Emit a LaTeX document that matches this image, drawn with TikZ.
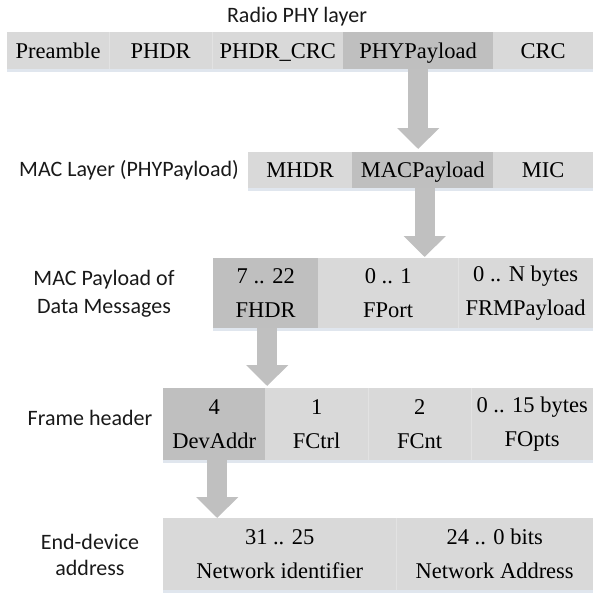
\documentclass[tikz,border=0pt]{standalone}
\usepackage{fontspec}
\setmainfont{Liberation Serif}
\newfontfamily\labelfont{Carlito}
\usetikzlibrary{arrows.meta,shadows}
\definecolor{cellA}{HTML}{D9D9D9}
\definecolor{cellB}{HTML}{BFBFBF}
\definecolor{arrowc}{HTML}{C0C0C0}
\definecolor{divc}{HTML}{E2E2E2}
\definecolor{shadowc}{HTML}{DDE3EC}
\begin{document}
\begin{tikzpicture}[x=1pt,y=-1pt,
  cell/.style={fill=cellA, draw=none, inner sep=0pt, anchor=north west, align=center,
    font=\fontsize{22.5pt}{34pt}\selectfont,
    drop shadow={shadow xshift=0pt, shadow yshift=-3pt, fill=shadowc, opacity=0.9}},
  oneline/.style={text height=15pt, text depth=0pt},
  dark/.style={fill=cellB},
  divider/.style={draw=divc, line width=1pt},
  lbl/.style={font=\labelfont\fontsize{22pt}{28pt}\selectfont, align=center, inner sep=0pt, text=black!90},
  bigarrow/.style={draw=arrowc, line width=20pt, -{Triangle[width=41pt,length=21pt]}},
]
\useasboundingbox (0,0) rectangle (593,595);

% Row 1: Radio PHY layer
\node[lbl] (title) at (297,17) {Radio PHY layer};
\node[cell, oneline, minimum width=102pt, minimum height=37pt] (pre) at (7,32) {Preamble};
\node[cell, oneline, minimum width=103pt, minimum height=37pt] (phdr) at (109,32) {PHDR};
\node[cell, oneline, minimum width=131pt, minimum height=37pt] (phdrcrc) at (212,32) {PHDR\_CRC};
\node[cell, oneline, dark, minimum width=150pt, minimum height=37pt] (phypay) at (343,32) {PHYPayload};
\node[cell, oneline, minimum width=100pt, minimum height=37pt] (crc) at (493,32) {CRC};
\draw[divider] (pre.north east) -- (pre.south east);
\draw[divider] (phdr.north east) -- (phdr.south east);

% Row 2: MAC layer
\node[lbl] (maclbl) at (129,170) {MAC Layer (PHYPayload)};
\node[cell, oneline, minimum width=104pt, minimum height=36pt] (mhdr) at (248,152) {MHDR};
\node[cell, oneline, dark, minimum width=141pt, minimum height=36pt] (macpay) at (352,152) {MACPayload};
\node[cell, oneline, minimum width=100pt, minimum height=36pt] (mic) at (493,152) {MIC};

% Row 3: MAC payload
\node[lbl] (pllbl) at (104,294) {MAC Payload of\\Data Messages};
\node[cell, dark, minimum width=105pt, minimum height=70pt] (fhdr) at (213,258) {7 .. 22\\FHDR};
\node[cell, minimum width=140pt, minimum height=70pt] (fport) at (318,258) {0 .. 1\\FPort};
\node[cell, minimum width=135pt, minimum height=70pt] (frm) at (458,258) {0 .. N bytes\\FRMPayload};
\draw[divider] (fport.north east) -- (fport.south east);

% Row 4: Frame header
\node[lbl] (fhlbl) at (90,418) {Frame header};
\node[cell, dark, minimum width=102pt, minimum height=72pt] (dev) at (163,388) {4\\DevAddr};
\node[cell, minimum width=103pt, minimum height=72pt] (fctrl) at (265,388) {1\\FCtrl};
\node[cell, minimum width=103pt, minimum height=72pt] (fcnt) at (368,388) {2\\FCnt};
\node[cell, minimum width=122pt, minimum height=72pt] (fopts) at (471,388) {0 .. 15 bytes\\FOpts};
\draw[divider] (fctrl.north east) -- (fctrl.south east);
\draw[divider] (fcnt.north east) -- (fcnt.south east);

% Row 5: End-device address
\node[lbl, font=\labelfont\fontsize{22pt}{26pt}\selectfont] (edlbl) at (90,555) {End-device\\address};
\node[cell, minimum width=233pt, minimum height=72pt] (netid) at (163,518) {31 .. 25\\Network identifier};
\node[cell, minimum width=197pt, minimum height=72pt] (netaddr) at (396,518) {24 .. 0 bits\\Network Address};
\draw[divider] (netid.north east) -- (netid.south east);

% Arrows
\draw[bigarrow, shorten >=3pt] (phypay.south) -- (phypay.south |- mhdr.north);
\draw[bigarrow, shorten >=1pt] ([xshift=2pt]macpay.south) -- ([xshift=2pt]macpay.south |- fport.north);
\draw[bigarrow, shorten >=2pt] ([xshift=1.5pt]fhdr.south) -- ([xshift=1.5pt]fhdr.south |- dev.north);
\draw[bigarrow] ([xshift=3pt]dev.south) -- ([xshift=3pt]dev.south |- netid.north);
\end{tikzpicture}
\end{document}
